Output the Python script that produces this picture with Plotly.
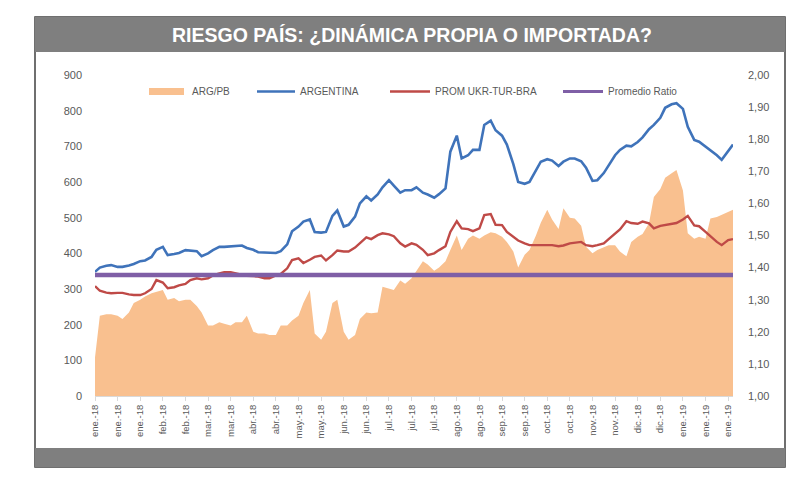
import plotly.graph_objects as go

# ---------------- data (two readings per week: Tuesday, Friday) ----------------
DATES = [
    "2018-01-02", "2018-01-05", "2018-01-09", "2018-01-12", "2018-01-16", "2018-01-19",
    "2018-01-23", "2018-01-26", "2018-01-30", "2018-02-02", "2018-02-06", "2018-02-09",
    "2018-02-13", "2018-02-16", "2018-02-20", "2018-02-23", "2018-02-27", "2018-03-02",
    "2018-03-06", "2018-03-09", "2018-03-13", "2018-03-16", "2018-03-20", "2018-03-23",
    "2018-03-27", "2018-03-30", "2018-04-03", "2018-04-06", "2018-04-10", "2018-04-13",
    "2018-04-17", "2018-04-20", "2018-04-24", "2018-04-27", "2018-05-01", "2018-05-04",
    "2018-05-08", "2018-05-11", "2018-05-15", "2018-05-18", "2018-05-22", "2018-05-25",
    "2018-05-29", "2018-06-01", "2018-06-05", "2018-06-08", "2018-06-12", "2018-06-15",
    "2018-06-19", "2018-06-22", "2018-06-26", "2018-06-29", "2018-07-03", "2018-07-06",
    "2018-07-10", "2018-07-13", "2018-07-17", "2018-07-20", "2018-07-24", "2018-07-27",
    "2018-07-31", "2018-08-03", "2018-08-07", "2018-08-10", "2018-08-14", "2018-08-17",
    "2018-08-21", "2018-08-24", "2018-08-28", "2018-08-31", "2018-09-04", "2018-09-07",
    "2018-09-11", "2018-09-14", "2018-09-18", "2018-09-21", "2018-09-25", "2018-09-28",
    "2018-10-02", "2018-10-05", "2018-10-09", "2018-10-12", "2018-10-16", "2018-10-19",
    "2018-10-23", "2018-10-26", "2018-10-30", "2018-11-02", "2018-11-06", "2018-11-09",
    "2018-11-13", "2018-11-16", "2018-11-20", "2018-11-23", "2018-11-27", "2018-11-30",
    "2018-12-04", "2018-12-07", "2018-12-11", "2018-12-14", "2018-12-18", "2018-12-21",
    "2018-12-25", "2018-12-28", "2019-01-01", "2019-01-04", "2019-01-08", "2019-01-11",
    "2019-01-15", "2019-01-18", "2019-01-22", "2019-01-25", "2019-01-29", "2019-02-01",
]

ARG_PB = [
    1.12, 1.25, 1.255, 1.255, 1.25, 1.24, 1.26, 1.29, 1.30, 1.31, 1.32, 1.325,
    1.33, 1.30, 1.305, 1.295, 1.30, 1.30, 1.28, 1.26, 1.22, 1.22, 1.23, 1.225,
    1.22, 1.23, 1.23, 1.25, 1.20, 1.195, 1.195, 1.19, 1.19, 1.22, 1.22, 1.235,
    1.25, 1.29, 1.33, 1.195, 1.175, 1.20, 1.29, 1.30, 1.20, 1.175, 1.19, 1.24,
    1.26, 1.258, 1.26, 1.34, 1.335, 1.33, 1.36, 1.35, 1.367, 1.39, 1.42, 1.41,
    1.39, 1.40, 1.42, 1.455, 1.50, 1.455, 1.49, 1.50, 1.49, 1.50, 1.51, 1.507,
    1.496, 1.48, 1.45, 1.40, 1.44, 1.455, 1.50, 1.54, 1.58, 1.55, 1.52, 1.585,
    1.555, 1.553, 1.53, 1.465, 1.445, 1.455, 1.465, 1.47, 1.47, 1.45, 1.435, 1.48,
    1.496, 1.505, 1.538, 1.62, 1.645, 1.68, 1.694, 1.704, 1.64, 1.507, 1.49, 1.496,
    1.49, 1.553, 1.558, 1.564, 1.574, 1.58,
]

ARGENTINA = [
    348, 360, 365, 367, 362, 362, 366, 370, 378, 380, 390, 410,
    418, 395, 398, 401, 409, 408, 406, 392, 400, 409, 418, 418,
    420, 420, 422, 415, 410, 403, 402, 401, 401, 406, 425, 462,
    475, 489, 495, 460, 458, 460, 505, 520, 475, 480, 503, 540,
    560, 548, 565, 585, 605, 590, 570, 577, 577, 585, 570, 565,
    556, 566, 582, 685, 730, 666, 675, 690, 690, 760, 772, 745,
    730, 705, 650, 600, 595, 600, 632, 657, 664, 660, 645, 657,
    666, 666, 658, 640, 603, 605, 625, 645, 675, 690, 702, 700,
    712, 725, 748, 760, 780, 808, 818, 821, 805, 755, 718, 713,
    700, 690, 675, 662, 688, 705,
]

PROM_UKR_TUR_BRA = [
    308, 295, 290, 288, 289, 289, 285, 283, 283, 288, 300, 325,
    318, 302, 305, 310, 314, 325, 330, 327, 330, 338, 344, 347,
    347, 344, 340, 337, 336, 335, 330, 330, 338, 342, 358, 381,
    386, 373, 382, 390, 394, 380, 395, 408, 405, 405, 416, 428,
    445, 440, 451, 456, 453, 448, 428, 419, 428, 424, 410, 395,
    400, 409, 420, 460, 490, 470, 468, 462, 470, 507, 510, 480,
    479, 460, 445, 436, 428, 423, 423, 423, 423, 423, 420, 422,
    428, 430, 432, 423, 420, 423, 428, 440, 455, 467, 490, 485,
    483, 489, 484, 470, 477, 480, 484, 485, 495, 505, 478, 476,
    460, 447, 432, 423, 437, 440,
]

PROMEDIO_RATIO = 1.377

TICK_DATES = [
    "2018-01-02", "2018-01-16", "2018-01-30", "2018-02-13", "2018-02-27",
    "2018-03-13", "2018-03-27", "2018-04-10", "2018-04-24", "2018-05-08",
    "2018-05-22", "2018-06-05", "2018-06-19", "2018-07-03", "2018-07-17",
    "2018-07-31", "2018-08-14", "2018-08-28", "2018-09-11", "2018-09-25",
    "2018-10-09", "2018-10-23", "2018-11-06", "2018-11-20", "2018-12-04",
    "2018-12-18", "2019-01-01", "2019-01-15", "2019-01-29",
]
TICK_LABELS = [
    "ene.-18", "ene.-18", "ene.-18", "feb.-18", "feb.-18",
    "mar.-18", "mar.-18", "abr.-18", "abr.-18", "may.-18",
    "may.-18", "jun.-18", "jun.-18", "jul.-18", "jul.-18",
    "jul.-18", "ago.-18", "ago.-18", "sep.-18", "sep.-18",
    "oct.-18", "oct.-18", "nov.-18", "nov.-18", "dic.-18",
    "dic.-18", "ene.-19", "ene.-19", "ene.-19",
]

TITLE = "RIESGO PAÍS: ¿DINÁMICA PROPIA O IMPORTADA?"
NAMES = ["ARG/PB", "ARGENTINA", "PROM UKR-TUR-BRA", "Promedio Ratio"]

# ---------------- layout helpers ----------------
# The page body has an 8px margin, so the figure is drawn 8px right/down.
W, H = 800, 487
OFF = 8
L, T = 95 - OFF, 75 - OFF          # plot area starts at screen (95, 75)
PW, PH = 638, 321                   # plot area size
R = W - L - PW
B = H - T - PH

def px(x):   # screen x -> paper x
    return (x - 95) / PW

def py(y):   # screen y -> paper y
    return (396 - y) / PH

C_AREA = "#F9C08F"
C_BLUE = "#3F73BA"
C_RED = "#BF4A47"
C_PURPLE = "#7F5FA6"
C_TXT = "#595959"
FONT = "Liberation Sans, Arial, sans-serif"

fig = go.Figure()

fig.add_trace(go.Scatter(
    x=DATES, y=ARG_PB, name=NAMES[0], yaxis="y",
    mode="lines", line=dict(width=0, color=C_AREA),
    fill="tozeroy", fillcolor=C_AREA, showlegend=False,
))
fig.add_trace(go.Scatter(
    x=DATES, y=ARGENTINA, name=NAMES[1], yaxis="y2",
    mode="lines", line=dict(width=2.6, color=C_BLUE), showlegend=False,
))
fig.add_trace(go.Scatter(
    x=DATES, y=PROM_UKR_TUR_BRA, name=NAMES[2], yaxis="y2",
    mode="lines", line=dict(width=2.4, color=C_RED), showlegend=False,
))
fig.add_trace(go.Scatter(
    x=[DATES[0], DATES[-1]], y=[PROMEDIO_RATIO, PROMEDIO_RATIO],
    name=NAMES[3], yaxis="y3",
    mode="lines", line=dict(width=4.5, color=C_PURPLE), showlegend=False,
))

shapes = []
annotations = []

# outer frame, title band and bottom band
shapes.append(dict(type="rect", xref="paper", yref="paper",
                   x0=px(35), x1=px(785), y0=py(467), y1=py(17),
                   line=dict(color="#404040", width=1.5), fillcolor="rgba(0,0,0,0)",
                   layer="below"))
shapes.append(dict(type="rect", xref="paper", yref="paper",
                   x0=px(35), x1=px(785), y0=py(52), y1=py(17),
                   line=dict(width=0), fillcolor="#7F7F7F", layer="below"))
shapes.append(dict(type="rect", xref="paper", yref="paper",
                   x0=px(35), x1=px(785), y0=py(467), y1=py(448),
                   line=dict(width=0), fillcolor="#7F7F7F", layer="below"))

annotations.append(dict(text="<b>" + TITLE + "</b>", xref="paper", yref="paper",
                        x=px(412), y=py(35), showarrow=False,
                        xanchor="center", yanchor="middle",
                        font=dict(family="Liberation Sans Narrow, Arial Narrow, Liberation Sans",
                                  size=19.5, color="white")))

# manual legend
LEG_Y = 91.5
shapes.append(dict(type="rect", xref="paper", yref="paper",
                   x0=px(149), x1=px(184), y0=py(95), y1=py(88),
                   line=dict(width=0), fillcolor=C_AREA))
for (x0, x1, col, wdt) in [(257, 295, C_BLUE, 2.6), (390, 430, C_RED, 2.6),
                           (563, 603, C_PURPLE, 3.0)]:
    shapes.append(dict(type="line", xref="paper", yref="paper",
                       x0=px(x0), x1=px(x1), y0=py(LEG_Y), y1=py(LEG_Y),
                       line=dict(color=col, width=wdt)))
for name, xt in zip(NAMES, [190, 298, 433, 606]):
    annotations.append(dict(text=name, xref="paper", yref="paper",
                            x=px(xt), y=py(LEG_Y), showarrow=False,
                            xanchor="left", yanchor="middle",
                            font=dict(family=FONT, size=10, color=C_TXT)))

fig.update_layout(
    width=W, height=H,
    margin=dict(l=L, r=R, t=T, b=B),
    paper_bgcolor="white", plot_bgcolor="white",
    separators=",.",
    showlegend=False,
    font=dict(family=FONT, size=11, color=C_TXT),
    xaxis=dict(
        type="date", range=[DATES[0], DATES[-1]],
        tickvals=TICK_DATES, ticktext=TICK_LABELS, tickangle=-90,
        tickfont=dict(size=9.5, color=C_TXT),
        showgrid=False, zeroline=False,
        showline=True, linecolor="#D9D9D9", linewidth=1,
        ticks="outside", ticklen=4, tickcolor="#D9D9D9",
    ),
    yaxis=dict(
        side="right", range=[1, 2], dtick=0.1, tickformat=".2f",
        showgrid=False, zeroline=False, showline=False,
        tickfont=dict(size=11, color=C_TXT), ticklabelstandoff=14,
    ),
    yaxis2=dict(
        overlaying="y", side="left", range=[0, 900], dtick=100,
        showgrid=False, zeroline=False, showline=False,
        tickfont=dict(size=11, color=C_TXT), ticklabelstandoff=12,
    ),
    yaxis3=dict(
        overlaying="y", range=[1, 2], visible=False,
    ),
    shapes=shapes,
    annotations=annotations,
)

fig.write_html("out.html")
